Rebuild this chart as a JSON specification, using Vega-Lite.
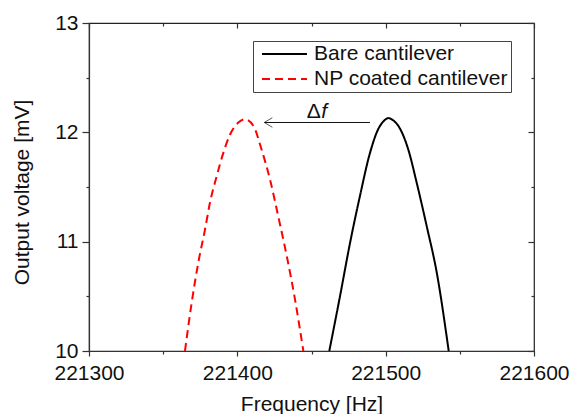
{
  "$schema": "https://vega.github.io/schema/vega-lite/v6.json",
  "width": 445,
  "height": 328,
  "autosize": {"type": "none"},
  "padding": {"left": 89, "top": 23, "right": 37, "bottom": 63},
  "background": "white",
  "config": {
    "font": "Liberation Sans",
    "view": {"stroke": "#222", "strokeWidth": 1.2},
    "axis": {
      "grid": false,
      "domainColor": "#333",
      "domainWidth": 1.2,
      "tickColor": "#333",
      "tickWidth": 1.2,
      "labelColor": "#111",
      "titleColor": "#111",
      "labelFontSize": 21,
      "titleFontSize": 21,
      "titleFontWeight": "normal",
      "labelFont": "Liberation Sans",
      "titleFont": "Liberation Sans",
      "labelFlush": false,
      "labelOverlap": false
    }
  },
  "datasets": {
    "curves": [
      {"f": 221462.0, "v": 10.0, "s": "Bare cantilever"},
      {"f": 221469.2, "v": 10.5, "s": "Bare cantilever"},
      {"f": 221476.0, "v": 10.99, "s": "Bare cantilever"},
      {"f": 221482.7, "v": 11.42, "s": "Bare cantilever"},
      {"f": 221489.4, "v": 11.81, "s": "Bare cantilever"},
      {"f": 221495.0, "v": 12.03, "s": "Bare cantilever"},
      {"f": 221498.5, "v": 12.1, "s": "Bare cantilever"},
      {"f": 221501.8, "v": 12.13, "s": "Bare cantilever"},
      {"f": 221505.0, "v": 12.11, "s": "Bare cantilever"},
      {"f": 221508.5, "v": 12.06, "s": "Bare cantilever"},
      {"f": 221515.3, "v": 11.84, "s": "Bare cantilever"},
      {"f": 221520.9, "v": 11.54, "s": "Bare cantilever"},
      {"f": 221527.7, "v": 11.14, "s": "Bare cantilever"},
      {"f": 221534.4, "v": 10.72, "s": "Bare cantilever"},
      {"f": 221542.5, "v": 10.0, "s": "Bare cantilever"},
      {"f": 221364.7, "v": 10.0, "s": "NP coated cantilever"},
      {"f": 221369.2, "v": 10.44, "s": "NP coated cantilever"},
      {"f": 221373.7, "v": 10.81, "s": "NP coated cantilever"},
      {"f": 221378.2, "v": 11.11, "s": "NP coated cantilever"},
      {"f": 221381.6, "v": 11.36, "s": "NP coated cantilever"},
      {"f": 221386.1, "v": 11.6, "s": "NP coated cantilever"},
      {"f": 221390.5, "v": 11.81, "s": "NP coated cantilever"},
      {"f": 221395.1, "v": 11.98, "s": "NP coated cantilever"},
      {"f": 221400.7, "v": 12.09, "s": "NP coated cantilever"},
      {"f": 221405.2, "v": 12.12, "s": "NP coated cantilever"},
      {"f": 221410.8, "v": 12.06, "s": "NP coated cantilever"},
      {"f": 221416.4, "v": 11.84, "s": "NP coated cantilever"},
      {"f": 221422.0, "v": 11.57, "s": "NP coated cantilever"},
      {"f": 221427.6, "v": 11.23, "s": "NP coated cantilever"},
      {"f": 221433.3, "v": 10.87, "s": "NP coated cantilever"},
      {"f": 221438.9, "v": 10.47, "s": "NP coated cantilever"},
      {"f": 221444.5, "v": 10.0, "s": "NP coated cantilever"}
    ],
    "arrow": [{"f1": 221489.4, "f2": 221418.2, "v": 12.09}],
    "head": [{"f": 221418.2, "v": 12.09}],
    "delta": [{"f": 221446.8, "v": 12.13, "t": "Δ"}],
    "fletter": [{"f": 221456.6, "v": 12.13, "t": "f"}]
  },
  "layer": [
    {
      "data": {"name": "curves"},
      "mark": {"type": "line", "strokeWidth": 2, "interpolate": "monotone", "clip": true},
      "encoding": {
        "x": {
          "field": "f",
          "type": "quantitative",
          "scale": {"domain": [221300, 221600], "nice": false, "zero": false},
          "axis": {
            "orient": "bottom",
            "values": [221300, 221400, 221500, 221600],
            "format": "d",
            "tickSize": 5,
            "labelPadding": 6,
            "title": "Frequency [Hz]",
            "titleX": 222.5,
            "titleY": 59,
            "titleAlign": "center",
            "titleBaseline": "alphabetic"
          }
        },
        "y": {
          "field": "v",
          "type": "quantitative",
          "scale": {"domain": [10, 13], "nice": false, "zero": false},
          "axis": {
            "orient": "left",
            "values": [10, 11, 12, 13],
            "format": "d",
            "tickSize": 7,
            "labelPadding": 4,
            "title": "Output voltage [mV]",
            "titleX": -61,
            "titleY": 169,
            "titleAngle": 270,
            "titleAlign": "center",
            "titleBaseline": "alphabetic"
          }
        },
        "color": {
          "field": "s",
          "type": "nominal",
          "scale": {"domain": ["Bare cantilever", "NP coated cantilever"], "range": ["#000000", "#ff0000"]},
          "legend": {
            "title": null,
            "orient": "none",
            "legendX": 164,
            "legendY": 18,
            "direction": "vertical",
            "symbolType": "stroke",
            "symbolSize": 2025,
            "symbolStrokeWidth": 2,
            "clipHeight": 20,
            "labelFontSize": 21,
            "labelFont": "Liberation Sans",
            "labelColor": "#111",
            "labelOffset": 6,
            "labelLimit": 400,
            "rowPadding": 4,
            "padding": 3,
            "symbolOffset": 5,
            "strokeColor": "#444",
            "fillColor": "white"
          }
        },
        "strokeDash": {
          "field": "s",
          "type": "nominal",
          "scale": {"domain": ["Bare cantilever", "NP coated cantilever"], "range": [[1, 0], [8, 5]]},
          "legend": {
            "title": null,
            "orient": "none",
            "legendX": 164,
            "legendY": 18,
            "direction": "vertical",
            "symbolType": "stroke",
            "symbolSize": 2025,
            "symbolStrokeWidth": 2,
            "clipHeight": 20,
            "labelFontSize": 21,
            "labelFont": "Liberation Sans",
            "labelColor": "#111",
            "labelOffset": 6,
            "labelLimit": 400,
            "rowPadding": 4,
            "padding": 3,
            "symbolOffset": 5,
            "strokeColor": "#444",
            "fillColor": "white"
          }
        }
      }
    },
    {
      "data": {"name": "arrow"},
      "mark": {"type": "rule", "color": "#111", "strokeWidth": 1},
      "encoding": {
        "x": {
          "field": "f1",
          "type": "quantitative",
          "axis": {
            "orient": "top",
            "values": [221300, 221400, 221500, 221600],
            "labels": false,
            "domain": false,
            "title": null,
            "tickSize": -5
          }
        },
        "x2": {"field": "f2"},
        "y": {
          "field": "v",
          "type": "quantitative",
          "axis": {
            "orient": "right",
            "values": [10, 11, 12, 13],
            "labels": false,
            "domain": false,
            "title": null,
            "tickSize": -6
          }
        }
      }
    },
    {
      "data": {"name": "head"},
      "mark": {"type": "point", "shape": "M 2 -1.2 L 0 0 L 2 1.2", "size": 64, "filled": false, "stroke": "#111", "strokeWidth": 1},
      "encoding": {
        "x": {
          "field": "f",
          "type": "quantitative",
          "axis": {
            "orient": "bottom",
            "values": [221350, 221450, 221550],
            "labels": false,
            "domain": false,
            "title": null,
            "tickSize": 3
          }
        },
        "y": {
          "field": "v",
          "type": "quantitative",
          "axis": {
            "orient": "left",
            "values": [10.5, 11.5, 12.5],
            "labels": false,
            "domain": false,
            "title": null,
            "tickSize": 3
          }
        }
      }
    },
    {
      "data": {"name": "delta"},
      "mark": {"type": "text", "font": "Liberation Sans", "fontSize": 21, "align": "left", "baseline": "alphabetic", "color": "#111"},
      "encoding": {
        "x": {
          "field": "f",
          "type": "quantitative",
          "axis": {
            "orient": "top",
            "values": [221350, 221450, 221550],
            "labels": false,
            "domain": false,
            "title": null,
            "tickSize": -3
          }
        },
        "y": {
          "field": "v",
          "type": "quantitative",
          "axis": {
            "orient": "right",
            "values": [10.5, 11.5, 12.5],
            "labels": false,
            "domain": false,
            "title": null,
            "tickSize": -3
          }
        },
        "text": {"field": "t"}
      }
    },
    {
      "data": {"name": "fletter"},
      "mark": {"type": "text", "font": "Liberation Sans", "fontSize": 21, "fontStyle": "italic", "align": "left", "baseline": "alphabetic", "color": "#111"},
      "encoding": {
        "x": {"field": "f", "type": "quantitative", "axis": null},
        "y": {"field": "v", "type": "quantitative", "axis": null},
        "text": {"field": "t"}
      }
    }
  ],
  "resolve": {"axis": {"x": "independent", "y": "independent"}}
}
